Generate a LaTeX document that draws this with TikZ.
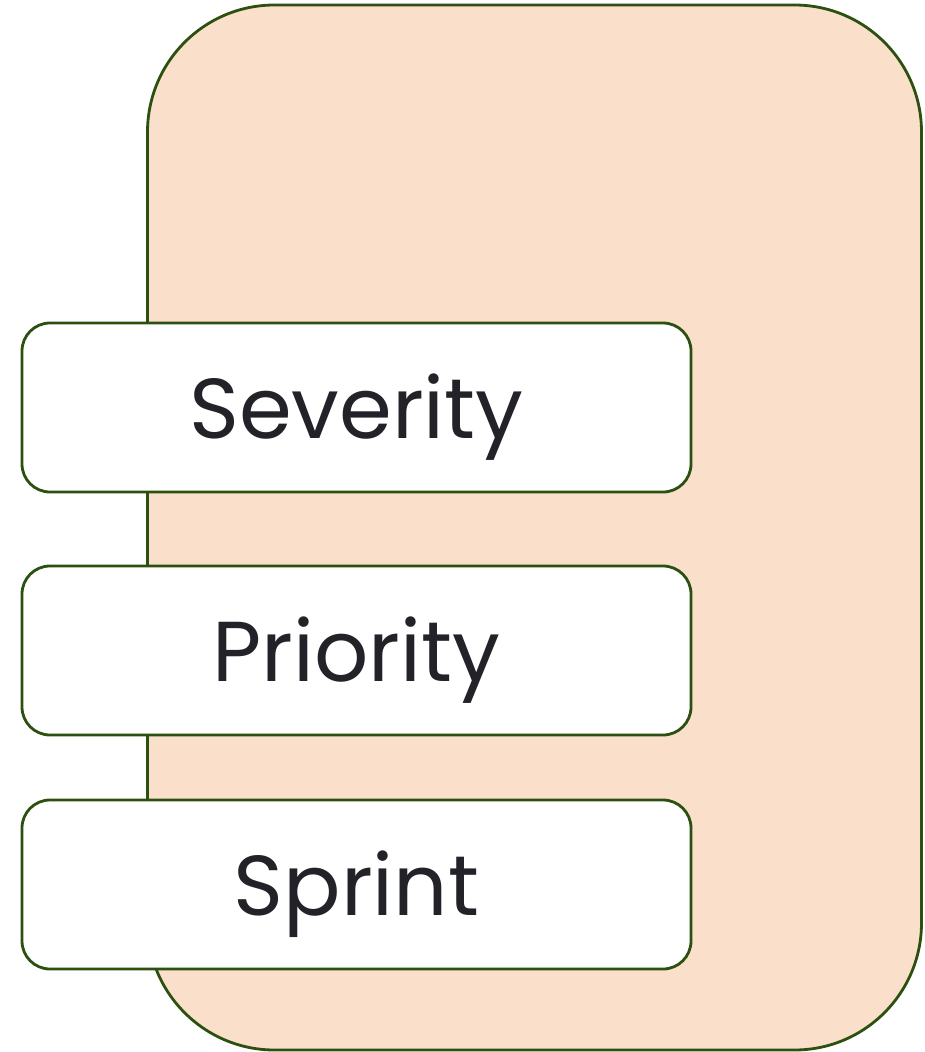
\documentclass[tikz,border=0pt]{standalone}
\usepackage{fontspec}
\setmainfont{Poppins}
\usepackage{tikz}
\definecolor{peach}{HTML}{FADFCA}
\definecolor{leaf}{HTML}{2C5010}
\definecolor{ink}{HTML}{222228}

\begin{document}
\begin{tikzpicture}[x=1pt, y=-1pt,
	field/.style={draw=leaf, line width=2.8pt, fill=white, rounded corners=28pt,
		minimum width=669pt, minimum height=169pt, inner sep=0pt,
		text height=62pt, text depth=0pt,
		text=ink, font=\fontsize{85}{100}\selectfont},
	panel/.style={draw=leaf, line width=2.8pt, fill=peach, rounded corners=127pt,
		minimum width=774pt, minimum height=1045pt, inner sep=0pt}]
	\useasboundingbox (0,0) rectangle (924,1052);
	% background panel
	\node[panel] (panel) at (534.5,527.5) {};
	
	\node[field] (severity) at (356.5,407.5) {Severity};
	\node[field] (priority) at (356.5,650.5) {Priority};
	\node[field] (sprint) at (356.5,884.5) {Sprint};
\end{tikzpicture}
\end{document}
